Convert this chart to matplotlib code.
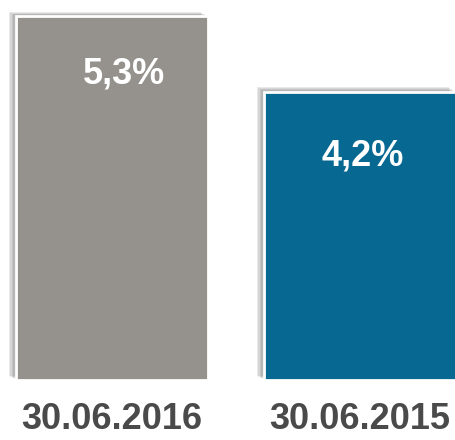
import matplotlib
matplotlib.use("Agg")
import matplotlib.pyplot as plt
import matplotlib.patheffects as pe
import numpy as np

plt.rcParams["font.family"] = ["Liberation Sans", "DejaVu Sans"]

# Data
dates = ["30.06.2016", "30.06.2015"]
values = [5.3, 4.2]
value_labels = ["5,3%", "4,2%"]

gray = "#95928d"
blue = "#076892"
colors = [gray, blue]

fig = plt.figure(figsize=(4.56, 4.40), dpi=100)
fig.patch.set_facecolor("white")
ax = fig.add_axes([0, 60 / 440, 1, 380 / 440])
ax.set_facecolor("none")

x = np.arange(len(dates))
bars = ax.bar(x, values, width=0.774, color=colors, edgecolor="white", linewidth=2)
# soft shadow: a few stacked faint offsets
shadow = [pe.SimplePatchShadow(offset=(-k, 0.6 * k), shadow_rgbFace="#505050", alpha=0.12)
          for k in (5, 4, 3, 2, 1)]
for b in bars:
    b.set_path_effects(shadow + [pe.Normal()])

ax.set_xlim(-0.4516, 1.387)
ax.set_ylim(0, 5.533)

# small per-bar nudges so the labels sit like in the reference
offsets = [(9, -29), (2, -34)]
for rect, lbl, off in zip(bars, value_labels, offsets):
    ax.annotate(lbl, xy=(rect.get_x() + rect.get_width() / 2, rect.get_height()),
                xytext=off, textcoords="offset points", ha="center", va="top",
                color="white", fontsize=26, fontweight="bold")

ax.set_xticks(x)
ax.set_xticklabels(dates, fontsize=26, fontweight="bold", color="#4a4a4a")
ax.tick_params(axis="x", length=0, pad=16)
ax.set_yticks([])
for s in ax.spines.values():
    s.set_visible(False)

fig.savefig("out.png", dpi=100, facecolor="white")
